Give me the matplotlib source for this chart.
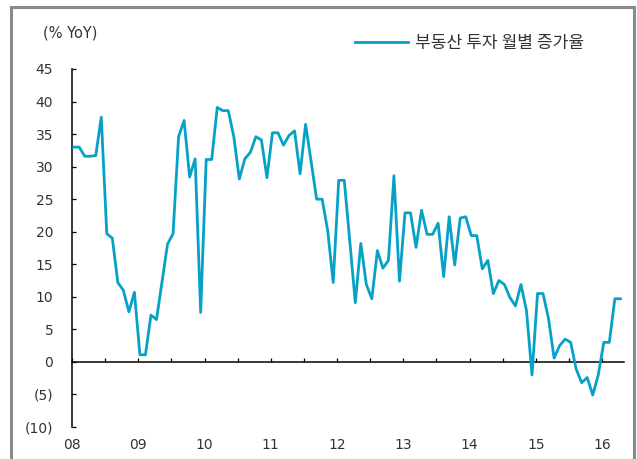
import matplotlib
matplotlib.use("Agg")
import matplotlib.pyplot as plt
import matplotlib.ticker as ticker
from matplotlib.patches import Rectangle
import numpy as np

# ── Data: monthly YoY growth, Jan 2008 .. Apr 2016 ────────────────────────────
START_YEAR = 2008
values_2008 = [33.0, 33.0, 31.6, 31.6, 31.7, 37.6, 19.7, 19.0, 12.2, 11.0, 7.7, 10.7]
values_2009 = [1.1, 1.1, 7.2, 6.5, 12.3, 18.1, 19.7, 34.6, 37.1, 28.4, 31.2, 7.6]
values_2010 = [31.1, 31.1, 39.1, 38.6, 38.6, 34.6, 28.1, 31.2, 32.2, 34.6, 34.1, 28.3]
values_2011 = [35.2, 35.2, 33.3, 34.8, 35.5, 28.9, 36.5, 30.8, 25.0, 25.0, 20.2, 12.2]
values_2012 = [27.9, 27.9, 18.6, 9.1, 18.2, 11.9, 9.7, 17.1, 14.4, 15.6, 28.6, 12.4]
values_2013 = [22.9, 22.9, 17.6, 23.3, 19.6, 19.6, 21.3, 13.1, 22.3, 14.9, 22.1, 22.3]
values_2014 = [19.4, 19.4, 14.3, 15.6, 10.5, 12.5, 11.9, 9.9, 8.6, 11.9, 7.9, -2.0]
values_2015 = [10.5, 10.5, 6.6, 0.6, 2.5, 3.5, 3.0, -1.1, -3.2, -2.4, -5.1, -2.0]
values_2016 = [3.0, 3.0, 9.7, 9.7]

growth = (values_2008 + values_2009 + values_2010 + values_2011 + values_2012
          + values_2013 + values_2014 + values_2015 + values_2016)

year_ticks = list(range(2008, 2017))
year_labels = ["08", "09", "10", "11", "12", "13", "14", "15", "16"]
y_ticks = list(range(-10, 50, 5))

SERIES_LABEL = "부동산 투자 월별 증가율"
UNIT_LABEL = "(% YoY)"

# ── Style ─────────────────────────────────────────────────────────────────────
LINE_C = "#05a1c7"
TEXT_C = "#333333"
FRAME_C = "#8a8a8a"

plt.rcParams["font.family"] = ["DejaVu Sans", "Noto Sans CJK KR"]

months = np.arange(len(growth))
x = START_YEAR + (months + 0.3) / 12.0

fig = plt.figure(figsize=(6.37, 4.59), dpi=100)
fig.patch.set_facecolor("white")

# outer gray frame (bottom edge runs off the image)
fig.patches.append(Rectangle((11 / 637, -0.02), 623 / 637, 1 - 7 / 459 + 0.02,
                             transform=fig.transFigure, fill=False,
                             edgecolor=FRAME_C, linewidth=2.2))

ax = fig.add_axes([72 / 637, 32 / 459, 552 / 637, 358 / 459])

ax.plot(x, growth, color=LINE_C, linewidth=2.0, label=SERIES_LABEL, zorder=3)

ax.set_xlim(2008, 2016.33)
ax.set_ylim(-10, 45)

# x axis sits on zero, labels pushed down to the bottom
ax.spines["bottom"].set_position(("data", 0))
ax.spines["top"].set_visible(False)
ax.spines["right"].set_visible(False)
for s in ("bottom", "left"):
    ax.spines[s].set_color("black")
    ax.spines[s].set_linewidth(1.1)

ax.set_xticks(year_ticks)
ax.set_xticklabels(year_labels)
ax.xaxis.set_minor_locator(ticker.FixedLocator([y + 0.5 for y in year_ticks[:-1]]))
ax.tick_params(axis="x", which="both", direction="in", length=3, width=0.9,
               colors="black", labelcolor=TEXT_C, labelsize=10, pad=55)

ax.set_yticks(y_ticks)
ax.yaxis.set_major_formatter(ticker.FuncFormatter(
    lambda v, p: f"({abs(int(v))})" if v < 0 else f"{int(v)}"))
ax.tick_params(axis="y", direction="in", length=3, width=0.9,
               colors="black", labelcolor=TEXT_C, labelsize=10, pad=13.5)

fig.text(43 / 637, 1 - 33 / 459, UNIT_LABEL, fontsize=10.5, color=TEXT_C,
         ha="left", va="center")

leg = ax.legend(loc="center left", bbox_to_anchor=(355 / 637, 1 - 43 / 459),
                bbox_transform=fig.transFigure, frameon=False, borderpad=0,
                borderaxespad=0, handlelength=3.1, handletextpad=0.4,
                prop={"family": ["Noto Sans CJK KR"], "size": 12.3})
for t in leg.get_texts():
    t.set_color(TEXT_C)

fig.savefig("out.png", dpi=100, facecolor="white")
